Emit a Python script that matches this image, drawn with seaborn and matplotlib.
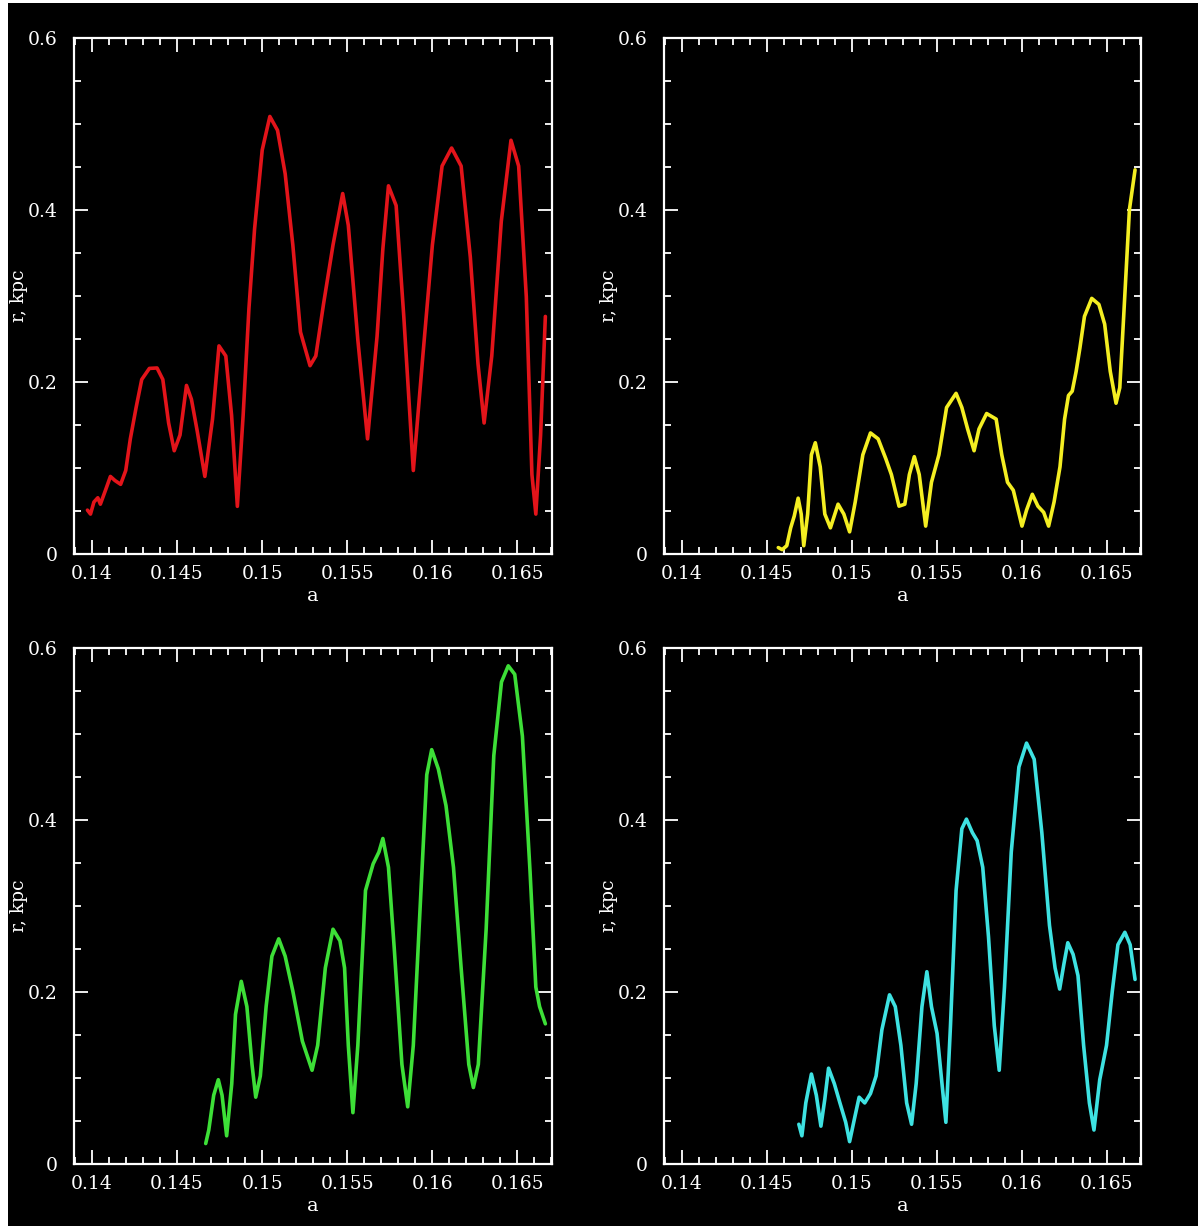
import numpy as np
import pandas as pd
import matplotlib
matplotlib.use("Agg")
import matplotlib.pyplot as plt
from matplotlib.patches import Rectangle
from matplotlib.ticker import MultipleLocator
import seaborn as sns

# ---------------- data ----------------
a_red = [0.13973, 0.13991, 0.14011, 0.14034, 0.14049, 0.14079, 0.14108, 0.14135,
         0.14168, 0.14198, 0.14225, 0.14259, 0.14292, 0.14337, 0.14382, 0.14416,
         0.14450, 0.14483, 0.14517, 0.14555, 0.14584, 0.14618, 0.14663, 0.14708,
         0.14746, 0.14786, 0.14820, 0.14854, 0.14888, 0.14922, 0.14955, 0.15000,
         0.15045, 0.15090, 0.15135, 0.15180, 0.15225, 0.15281, 0.15315, 0.15360,
         0.15416, 0.15473, 0.15506, 0.15562, 0.15619, 0.15675, 0.15709, 0.15742,
         0.15787, 0.15832, 0.15888, 0.15944, 0.16000, 0.16057, 0.16113, 0.16169,
         0.16223, 0.16268, 0.16304, 0.16349, 0.16405, 0.16462, 0.16507, 0.16552,
         0.16585, 0.16608, 0.16636, 0.16664]
r_red = [0.0506, 0.0460, 0.0600, 0.0650, 0.0575, 0.0737, 0.0898, 0.0850,
         0.0806, 0.0967, 0.1335, 0.1700, 0.2026, 0.2155, 0.2160, 0.2026,
         0.1520, 0.1197, 0.1380, 0.1957, 0.1796, 0.1427, 0.0898, 0.1565,
         0.2417, 0.2300, 0.1610, 0.0550, 0.1610, 0.2850, 0.3775, 0.4696,
         0.5087, 0.4926, 0.4420, 0.3590, 0.2578, 0.2187, 0.2300, 0.2900,
         0.3590, 0.4190, 0.3820, 0.2486, 0.1335, 0.2530, 0.3545, 0.4280,
         0.4050, 0.2760, 0.0967, 0.2300, 0.3590, 0.4510, 0.4720, 0.4510,
         0.3450, 0.2210, 0.1520, 0.2300, 0.3867, 0.4810, 0.4510, 0.2990,
         0.0920, 0.0460, 0.1380, 0.2760]

a_yellow = [0.14567, 0.14590, 0.14617, 0.14640, 0.14661, 0.14684, 0.14702, 0.14717,
            0.14740, 0.14762, 0.14785, 0.14814, 0.14841, 0.14874, 0.14919, 0.14953,
            0.14987, 0.15020, 0.15065, 0.15110, 0.15155, 0.15200, 0.15233, 0.15278,
            0.15312, 0.15339, 0.15368, 0.15397, 0.15435, 0.15469, 0.15513, 0.15558,
            0.15614, 0.15648, 0.15682, 0.15720, 0.15749, 0.15794, 0.15850, 0.15883,
            0.15917, 0.15951, 0.16002, 0.16029, 0.16063, 0.16096, 0.16130, 0.16159,
            0.16191, 0.16226, 0.16253, 0.16276, 0.16298, 0.16321, 0.16343, 0.16370,
            0.16413, 0.16455, 0.16489, 0.16522, 0.16556, 0.16578, 0.16601, 0.16635,
            0.16668]
r_yellow = [0.0070, 0.0046, 0.0092, 0.0300, 0.0437, 0.0645, 0.0460, 0.0092,
            0.0460, 0.1150, 0.1290, 0.1010, 0.0460, 0.0300, 0.0575, 0.0460,
            0.0253, 0.0600, 0.1150, 0.1404, 0.1335, 0.1105, 0.0920, 0.0552,
            0.0575, 0.0920, 0.1128, 0.0920, 0.0320, 0.0830, 0.1150, 0.1700,
            0.1865, 0.1700, 0.1450, 0.1197, 0.1450, 0.1630, 0.1565, 0.1150,
            0.0830, 0.0737, 0.0320, 0.0506, 0.0690, 0.0552, 0.0480, 0.0320,
            0.0600, 0.1010, 0.1565, 0.1840, 0.1890, 0.2120, 0.2390, 0.2760,
            0.2970, 0.2900, 0.2670, 0.2120, 0.1750, 0.1930, 0.2760, 0.4006,
            0.4466]

a_green = [0.14668, 0.14686, 0.14715, 0.14742, 0.14764, 0.14791, 0.14821, 0.14843,
           0.14877, 0.14910, 0.14940, 0.14962, 0.14989, 0.15023, 0.15057, 0.15097,
           0.15135, 0.15180, 0.15236, 0.15293, 0.15326, 0.15371, 0.15416, 0.15457,
           0.15484, 0.15506, 0.15533, 0.15562, 0.15607, 0.15652, 0.15686, 0.15709,
           0.15742, 0.15776, 0.15821, 0.15855, 0.15888, 0.15933, 0.15967, 0.15996,
           0.16035, 0.16080, 0.16124, 0.16169, 0.16214, 0.16241, 0.16270, 0.16316,
           0.16361, 0.16406, 0.16446, 0.16484, 0.16529, 0.16574, 0.16608, 0.16630,
           0.16664]
r_green = [0.0238, 0.0395, 0.0800, 0.0980, 0.0800, 0.0328, 0.0934, 0.1740,
           0.2124, 0.1830, 0.1158, 0.0777, 0.1024, 0.1830, 0.2416, 0.2618,
           0.2416, 0.2010, 0.1428, 0.1090, 0.1380, 0.2280, 0.2730, 0.2595,
           0.2280, 0.1380, 0.0597, 0.1380, 0.3180, 0.3490, 0.3628, 0.3785,
           0.3450, 0.2506, 0.1158, 0.0665, 0.1380, 0.3180, 0.4526, 0.4818,
           0.4594, 0.4167, 0.3450, 0.2280, 0.1158, 0.0889, 0.1158, 0.2730,
           0.4750, 0.5604, 0.5793, 0.5694, 0.4975, 0.3400, 0.2057, 0.1830,
           0.1630]

a_cyan = [0.14688, 0.14706, 0.14729, 0.14762, 0.14791, 0.14818, 0.14841, 0.14863,
          0.14897, 0.14930, 0.14964, 0.14987, 0.15016, 0.15043, 0.15076, 0.15110,
          0.15143, 0.15177, 0.15222, 0.15256, 0.15289, 0.15323, 0.15352, 0.15379,
          0.15413, 0.15442, 0.15469, 0.15502, 0.15531, 0.15554, 0.15581, 0.15614,
          0.15648, 0.15675, 0.15710, 0.15738, 0.15771, 0.15805, 0.15839, 0.15868,
          0.15899, 0.15939, 0.15984, 0.16029, 0.16074, 0.16119, 0.16164, 0.16197,
          0.16224, 0.16249, 0.16272, 0.16303, 0.16332, 0.16365, 0.16399, 0.16426,
          0.16460, 0.16500, 0.16534, 0.16567, 0.16608, 0.16639, 0.16668]
r_cyan = [0.0462, 0.0328, 0.0710, 0.1046, 0.0800, 0.0440, 0.0754, 0.1114,
          0.0934, 0.0710, 0.0485, 0.0260, 0.0530, 0.0777, 0.0710, 0.0820,
          0.1024, 0.1560, 0.1967, 0.1830, 0.1380, 0.0710, 0.0462, 0.0934,
          0.1830, 0.2236, 0.1830, 0.1518, 0.0934, 0.0485, 0.1608, 0.3180,
          0.3898, 0.4010, 0.3853, 0.3760, 0.3450, 0.2640, 0.1608, 0.1090,
          0.2057, 0.3628, 0.4616, 0.4894, 0.4706, 0.3853, 0.2775, 0.2280,
          0.2034, 0.2326, 0.2573, 0.2438, 0.2190, 0.1380, 0.0710, 0.0395,
          0.0980, 0.1380, 0.2010, 0.2550, 0.2694, 0.2550, 0.2146]

x_ticks = [0.14, 0.145, 0.15, 0.155, 0.16, 0.165]
x_tick_labels = ["0.14", "0.145", "0.15", "0.155", "0.16", "0.165"]
y_ticks = [0.0, 0.2, 0.4, 0.6]
y_tick_labels = ["0", "0.2", "0.4", "0.6"]
x_label = "a"
y_label = "r, kpc"

series = [
    (a_red, r_red, "#e3141a"),
    (a_yellow, r_yellow, "#f4ee22"),
    (a_green, r_green, "#3ddf37"),
    (a_cyan, r_cyan, "#3ee2e2"),
]

# ---------------- style ----------------
sns.set_theme(style="ticks")
plt.rcParams["font.family"] = ["DejaVu Serif"]
plt.rcParams.update({
    "figure.facecolor": "black",
    "axes.facecolor": "black",
    "axes.edgecolor": "white",
    "text.color": "white",
    "axes.labelcolor": "white",
    "xtick.color": "white",
    "ytick.color": "white",
})

W, H = 1198, 1226
fig = plt.figure(figsize=(W / 100, H / 100), dpi=100)
fig.patch.set_facecolor("black")
# thin white frame strips at left and top like the reference
fig.patches.append(Rectangle((0, 0), 8 / W, 1, transform=fig.transFigure,
                             facecolor="white", edgecolor="none", zorder=-1))
fig.patches.append(Rectangle((0, 1 - 3 / H), 1, 3 / H, transform=fig.transFigure,
                             facecolor="white", edgecolor="none", zorder=-1))

# panel boxes in pixels: (left, right, top, bottom)
boxes = [(74, 552, 38, 553.6), (664, 1141, 38, 553.6),
         (74, 552, 648, 1164), (664, 1141, 648, 1164)]

for (xs, ys, col), (l, r, t, b) in zip(series, boxes):
    ax = fig.add_axes([l / W, 1 - b / H, (r - l) / W, (b - t) / H])
    df = pd.DataFrame({"a": xs, "r": ys})
    sns.lineplot(data=df, x="a", y="r", ax=ax, color=col, lw=2.6,
                 sort=False, estimator=None)
    ax.set_xlim(0.13894, 0.16703)
    ax.set_ylim(0, 0.6)
    ax.set_xticks(x_ticks)
    ax.set_xticklabels(x_tick_labels)
    ax.set_yticks(y_ticks)
    ax.set_yticklabels(y_tick_labels)
    ax.xaxis.set_minor_locator(MultipleLocator(0.001))
    ax.yaxis.set_minor_locator(MultipleLocator(0.05))
    ax.tick_params(which="both", direction="in", top=True, right=True,
                   colors="white", labelsize=13.5, width=1.3)
    ax.tick_params(which="major", length=10)
    ax.tick_params(axis="x", which="major", pad=8)
    ax.tick_params(axis="y", which="major", pad=12)
    ax.tick_params(which="minor", length=5)
    for s in ax.spines.values():
        s.set_color("white")
        s.set_linewidth(1.6)
        s.set_visible(True)
    ax.set_xlabel(x_label, fontsize=14, color="white", labelpad=3)
    ax.set_ylabel(y_label, fontsize=13.5, color="white", va="center")
    ax.yaxis.set_label_coords(-0.115, 0.5)
    ax.grid(False)

fig.savefig("out.png", dpi=100, facecolor="black")
